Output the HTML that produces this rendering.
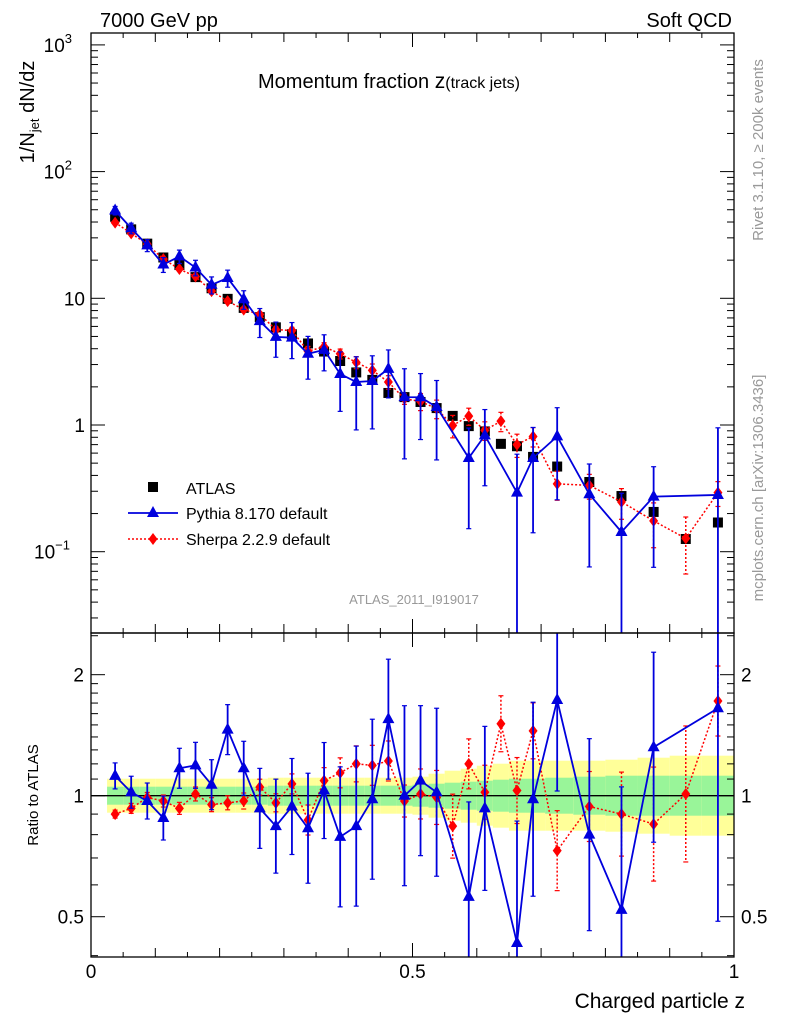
<!DOCTYPE html>
<html><head><meta charset="utf-8">
<style>
body{margin:0;background:#fff;overflow:hidden;}
svg{display:block;font-family:"Liberation Sans",Arial,sans-serif;}
</style></head>
<body>
<svg id="c" width="786" height="1024" viewBox="0 0 786 1024" xmlns="http://www.w3.org/2000/svg"></svg>
<script>
const zVals=[0.0375,0.0625,0.0875,0.1125,0.1375,0.1625,0.1875,0.2125,0.2375,0.2625,0.2875,0.3125,0.3375,0.3625,0.3875,0.4125,0.4375,0.4625,0.4875,0.5125,0.5375,0.5625,0.5875,0.6125,0.6375,0.6625,0.6875,0.725,0.775,0.825,0.875,0.925,0.975];
const atlas=[44,35,27,21,18.3,14.7,12,9.9,8.4,7.1,5.9,5.2,4.4,3.8,3.2,2.6,2.27,1.79,1.66,1.52,1.36,1.18,0.98,0.89,0.71,0.68,0.56,0.47,0.355,0.275,0.206,0.126,0.17];
const pythiaRatio=[1.12,1.02,0.97,0.88,1.17,1.19,1.065,1.46,1.17,0.93,0.84,0.94,0.83,1.03,0.79,0.84,0.98,1.55,1.0,1.09,1.02,null,0.56,0.93,null,0.43,0.98,1.73,0.80,0.52,1.32,null,1.65];
const pythiaErr=[13,16,18,22,20,23,25,25,27,40,47,48,55,48,70,80,80,60,90,75,84,null,95,82,null,122,97,91,96,123,95,null,213];
const sherpaRatio=[0.90,0.93,0.99,0.97,0.93,1.01,0.95,0.96,0.97,1.05,0.96,1.07,0.87,1.09,1.14,1.20,1.19,1.22,0.97,1.01,0.99,0.84,1.20,1.02,1.51,1.03,1.45,0.73,0.94,0.90,0.85,1.01,1.72];
const sherpaErr=[4,5,5,6,6,7,7,7,8,8,9,10,15,13,15,18,20,20,16,25,27,32,25,27,28,33,28,40,35,42,57,68,35];
const greenBand=[9,9,9,9,9,9,9,9,9,9,10,10,10,10,10,10,10,10,10,11,12,13,14,15,16,17,17,18,19,20,20,20,20];
const yellowBand=[17,17,17,17,17,17,17,17,17,17,18,18,18,18,18,18,18,18,18,19,22,25,27,30,32,35,35,35,35,36,38,40,40];

const svg=document.getElementById('c');
const NS='http://www.w3.org/2000/svg';
function mk(tag,attrs,parent){const e=document.createElementNS(NS,tag);for(const k in attrs)e.setAttribute(k,attrs[k]);(parent||svg).appendChild(e);return e;}
const L=91,R=734,T=33,M=633,B=957;
const X=z=>L+(R-L)*z;
const Y=v=>425-126.7*Math.log10(v);
const RPX=402;
const YR=r=>795.7-RPX*Math.log10(r);
const tx=(x,y,s,attrs)=>{const t=mk('text',Object.assign({x:x,y:y},attrs||{}));t.textContent=s;return t;};

const gBand=mk('g',{});


for(let i=0;i<zVals.length;i++){
  const x0=i==0?X(zVals[0]-0.0125):(X(zVals[i-1])+X(zVals[i]))/2;
  const x1=i==zVals.length-1?X(zVals[i]+0.025):(X(zVals[i])+X(zVals[i+1]))/2;
  const yb=yellowBand[i],gb=greenBand[i];
  mk('rect',{x:x0,y:795.7-yb,width:x1-x0,height:2*yb,fill:'#ffff99'},gBand);
  mk('rect',{x:x0,y:795.7-gb,width:x1-x0,height:2*gb,fill:'#99f599'},gBand);
}
mk('line',{x1:L,x2:R,y1:795.7,y2:795.7,stroke:'#000','stroke-width':1.3});

const defs=mk('defs',{});
const cp1=mk('clipPath',{id:'cm'},defs);mk('rect',{x:L,y:T,width:R-L,height:M-T},cp1);
const cp2=mk('clipPath',{id:'cr'},defs);mk('rect',{x:L,y:M,width:R-L,height:B-M},cp2);

function series(vals,errs,color,dash,marker,yfun,clip,name,linear,ymin,ymax){
  const g=mk('g',{'clip-path':'url(#'+clip+')'});
  
  
  let pts=[];
  for(let i=0;i<zVals.length;i++){if(vals[i]==null)continue;pts.push([X(zVals[i]),vals[i],errs?errs[i]:0]);}
  mk('polyline',{points:pts.map(p=>p[0]+','+yfun(p[1])).join(' '),fill:'none',stroke:color,'stroke-width':dash?1.5:1.8,'stroke-dasharray':dash||'none'},g);
  pts.forEach(p=>{
    const yc=yfun(p[1]);
    if(p[2]){let yt,yb;
      if(linear){const e=Math.pow(10,p[2]/RPX)-1;yt=yfun(p[1]*(1+e));const lo=1-e;yb=lo>0.001?yfun(p[1]*lo):ymax+5;}
      else{yt=yc-p[2];yb=yc+p[2];}
      yt=Math.max(yt,ymin-5);yb=Math.min(yb,ymax+5);
      mk('line',{x1:p[0],x2:p[0],y1:yt,y2:yb,stroke:color,'stroke-width':dash?1.5:1.8,'stroke-dasharray':dash||'none'},g);
      mk('line',{x1:p[0]-2.5,x2:p[0]+2.5,y1:yt,y2:yt,stroke:color,'stroke-width':1.2},g);
      mk('line',{x1:p[0]-2.5,x2:p[0]+2.5,y1:yb,y2:yb,stroke:color,'stroke-width':1.2},g);}
    let m;
    if(marker=='tri')m=mk('polygon',{points:`${p[0]},${yc-7} ${p[0]-6},${yc+4} ${p[0]+6},${yc+4}`,fill:color},g);
    else m=mk('polygon',{points:`${p[0]},${yc-6} ${p[0]-4.5},${yc} ${p[0]},${yc+6} ${p[0]+4.5},${yc}`,fill:color},g);
    
    
  });
}
const pythiaMain=pythiaRatio.map((r,i)=>r==null?null:r*atlas[i]);
const sherpaMain=sherpaRatio.map((r,i)=>r*atlas[i]);
const ga=mk('g',{'clip-path':'url(#cm)'});


atlas.forEach((v,i)=>{const r=mk('rect',{x:X(zVals[i])-5,y:Y(v)-5,width:10,height:10,fill:'#000'},ga);
  
  });
series(sherpaMain,sherpaErr,'#ff0000','2,2','dia',Y,'cm','sherpa-series',true,T,M);
series(pythiaMain,pythiaErr,'#0000dd',null,'tri',Y,'cm','pythia-series',true,T,M);
series(sherpaRatio,sherpaErr,'#ff0000','2,2','dia',YR,'cr','sherpa-ratio',false,M,B);
series(pythiaRatio,pythiaErr,'#0000dd',null,'tri',YR,'cr','pythia-ratio',false,M,B);

mk('rect',{x:L,y:T,width:R-L,height:M-T,fill:'none',stroke:'#000','stroke-width':1.3});
mk('rect',{x:L,y:M,width:R-L,height:B-M,fill:'none',stroke:'#000','stroke-width':1.3});

const xt=mk('g',{stroke:'#000','stroke-width':1});
for(let k=0;k<=20;k++){const z=k*0.05,x=X(z),len=k%2==0?(k%10==0?14:9):5;
  [[T,T+len],[M,M-len],[M,M+len],[B,B-len]].forEach(a=>mk('line',{x1:x,x2:x,y1:a[0],y2:a[1]},xt));}
[['0',0],['0.5',0.5],['1',1]].forEach(a=>tx(X(a[1]),978,a[0],{'font-size':19,'text-anchor':'middle',}));
const yt=mk('g',{stroke:'#000','stroke-width':1});
for(let d=-2;d<=3;d++){for(let m=1;m<=9;m++){const v=m*Math.pow(10,d),y=Y(v);if(y<T||y>M)continue;const len=m==1?14:7;
  mk('line',{x1:L,x2:L+len,y1:y,y2:y},yt);mk('line',{x1:R,x2:R-len,y1:y,y2:y},yt);}}
const ylab=[['10',3],['10',2],['10',1],['1',0],['10',-1]];
ylab.forEach(a=>{const y=Y(Math.pow(10,a[1]))+7;
  const t=tx(85,y,a[0],{'font-size':19,'text-anchor':'end',});
  if(a[0]=='10'&&a[1]!=1){t.setAttribute('x',a[1]<0?70:72);const s=mk('tspan',{dy:-9,'font-size':13},t);s.textContent=a[1]<0?'−1':String(a[1]);}
});
for(const r of [0.4,0.5,0.6,0.7,0.8,0.9,1,1.1,1.2,1.3,1.4,1.5,1.6,1.7,1.8,1.9,2,2.5]){const y=YR(r);if(y<M||y>B)continue;const len=(r==0.5||r==1||r==2)?14:7;
  mk('line',{x1:L,x2:L+len,y1:y,y2:y},yt);mk('line',{x1:R,x2:R-len,y1:y,y2:y},yt);}
[['2',2],['1',1],['0.5',0.5]].forEach(a=>{tx(84,YR(a[1])+7,a[0],{'font-size':19,'text-anchor':'end',});
  tx(741,YR(a[1])+7,a[0],{'font-size':19,});});

tx(100,27,'7000 GeV pp',{'font-size':20,});
tx(732,27,'Soft QCD',{'font-size':20,'text-anchor':'end',});
const tt=tx(258,88,'Momentum fraction ',{'font-size':20,});
const ts1=mk('tspan',{'font-size':21},tt);ts1.textContent='z';
const ts2=mk('tspan',{'font-size':16},tt);ts2.textContent='(track jets)';
tx(414,604,'ATLAS_2011_I919017',{'font-size':13,fill:'#999','text-anchor':'middle',});
tx(745,1008,'Charged particle z',{'font-size':21,'text-anchor':'end',});
const yl=tx(0,0,'1/N',{'font-size':20,transform:'translate(34,112) rotate(-90)','text-anchor':'middle',});
const s1=mk('tspan',{'font-size':13,dy:5},yl);s1.textContent='jet';
const s2=mk('tspan',{dy:-5},yl);s2.textContent=' dN/dz';
tx(0,0,'Ratio to ATLAS',{'font-size':15,transform:'translate(38,795) rotate(-90)','text-anchor':'middle',});
tx(0,0,'Rivet 3.1.10, ≥ 200k events',{'font-size':15,fill:'#999',transform:'translate(763,150) rotate(-90)','text-anchor':'middle',});
tx(0,0,'mcplots.cern.ch [arXiv:1306.3436]',{'font-size':15,fill:'#999',transform:'translate(763,488) rotate(-90)','text-anchor':'middle',});

const lg=mk('g',{});


mk('rect',{x:148,y:482,width:10,height:10,fill:'#000'},lg);
tx(186,494,'ATLAS',{'font-size':16,});
mk('line',{x1:128,x2:178,y1:513,y2:513,stroke:'#0000dd','stroke-width':1.8},lg);
mk('polygon',{points:'153,506 147,517 159,517',fill:'#0000dd'},lg);
tx(186,519,'Pythia 8.170 default',{'font-size':16,});
mk('line',{x1:128,x2:178,y1:539,y2:539,stroke:'#ff0000','stroke-width':1.5,'stroke-dasharray':'2,2'},lg);
mk('polygon',{points:'153,533 148.5,539 153,545 157.5,539',fill:'#ff0000'},lg);
tx(186,545,'Sherpa 2.2.9 default',{'font-size':16,});
</script>
</body></html>
